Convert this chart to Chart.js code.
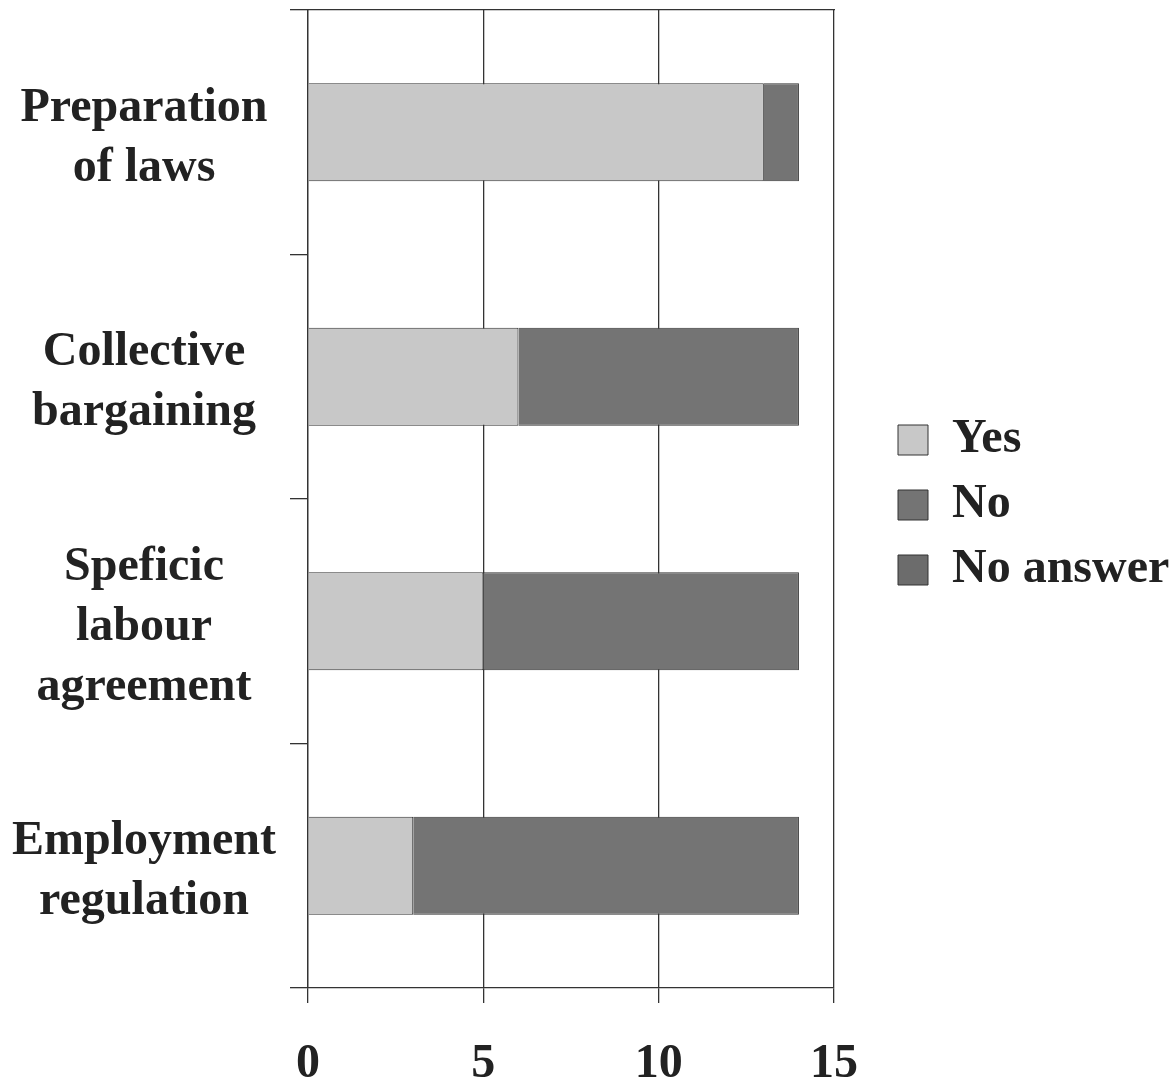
<!DOCTYPE html>
<html>
<head>
<meta charset="utf-8">
<script src="https://cdn.jsdelivr.net/npm/chart.js@4/dist/chart.umd.min.js"></script>
<style>
  html, body { margin: 0; padding: 0; background: #fff; }
  #wrap { width: 1173px; height: 1084px; }
</style>
</head>
<body>
<div id="wrap"><canvas id="myChart"></canvas></div>
<script>
// data
const categories = [
    ['Preparation', 'of laws'],
    ['Collective', 'bargaining'],
    ['Speficic', 'labour', 'agreement'],
    ['Employment', 'regulation']
];
const yesValues = [13, 6, 5, 3];
const noValues = [1, 8, 9, 11];
const noAnswerValues = [0, 0, 0, 0];
const xTickValues = [0, 5, 10, 15];

const serifBold = { family: '"Liberation Serif", "Times New Roman", serif', size: 48, weight: 'bold' };
const ink = '#222';
const lineCol = '#333';

// legend is wider than chart.js lets a side box be, so force its width
// and nudge it up a bit to sit level with the plot
const legendFix = {
    id: 'legendFix',
    beforeLayout(chart) {
        const lg = chart.legend;
        if (lg && !lg._patched) {
            const origFit = lg.fit.bind(lg);
            lg.fit = function () {
                origFit();
                this.width = 292;
            };
            lg._patched = true;
        }
    },
    afterLayout(chart) {
        const lg = chart.legend;
        if (lg) {
            lg.top -= 42;
            lg.bottom -= 42;
        }
    }
};

const data = {
    labels: categories,
    datasets: [
        { label: 'Yes', data: yesValues, backgroundColor: '#c8c8c8', borderColor: lineCol, borderWidth: 1 },
        { label: 'No', data: noValues, backgroundColor: '#747474', borderColor: lineCol, borderWidth: 1 },
        { label: 'No answer', data: noAnswerValues, backgroundColor: '#6c6c6c', borderColor: lineCol, borderWidth: 1 }
    ]
};

const config = {
    type: 'bar',
    data: data,
    options: {
        indexAxis: 'y',
        responsive: true,
        maintainAspectRatio: false,
        animation: false,
        datasets: { bar: { barPercentage: 0.4, categoryPercentage: 1 } },
        layout: { padding: { top: 10, left: 0, right: 0, bottom: 0 } },
        scales: {
            x: {
                stacked: true,
                min: 0,
                max: 15,
                position: 'bottom',
                afterBuildTicks: (s) => { s.ticks = xTickValues.map(v => ({ value: v })); },
                ticks: { font: serifBold, color: ink, padding: 33 },
                grid: { color: lineCol, lineWidth: 1.3, tickLength: 15 },
                border: { color: lineCol, width: 1.3 },
                afterFit: (s) => { s.height = 96; }
            },
            xTop: {
                type: 'linear',
                position: 'top',
                min: 0,
                max: 15,
                ticks: { display: false },
                grid: { display: false },
                border: { display: true, color: lineCol, width: 1.3 },
                afterFit: (s) => { s.height = 0; }
            },
            y: {
                stacked: true,
                grid: { offset: true, drawOnChartArea: false, tickLength: 18, color: lineCol, lineWidth: 1.3 },
                border: { color: lineCol, width: 1.3 },
                ticks: {
                    crossAlign: 'center',
                    padding: 14,
                    labelOffset: 6,
                    font: Object.assign({}, serifBold, { lineHeight: 1.25 }),
                    color: ink
                },
                afterFit: (s) => {
                    s.width = 308;
                    s.paddingTop = 0;
                    s.paddingBottom = 0;
                }
            },
            gap: {
                type: 'linear',
                position: 'right',
                ticks: { display: false },
                grid: { display: false },
                border: { display: false },
                afterFit: (s) => { s.width = 47; }
            }
        },
        plugins: {
            legend: {
                position: 'right',
                labels: {
                    boxWidth: 30,
                    boxHeight: 30,
                    padding: 17,
                    color: ink,
                    font: Object.assign({}, serifBold, { lineHeight: 1 })
                }
            },
            tooltip: { enabled: false }
        }
    },
    plugins: [legendFix]
};

const myChart = new Chart(document.getElementById('myChart'), config);
</script>
</body>
</html>
